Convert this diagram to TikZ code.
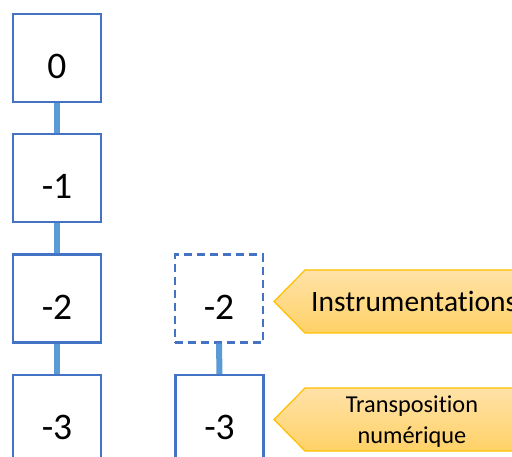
\documentclass[tikz,border=0pt]{standalone}
\usepackage{fontspec}
\setmainfont{Carlito}[Ligatures={NoCommon,NoRare,NoContextual}]
\definecolor{boxblue}{HTML}{4472C4}
\definecolor{linkblue}{HTML}{5B9BD5}
\definecolor{tagtop}{HTML}{FFE2A8}
\definecolor{tagbot}{HTML}{FFD166}
\definecolor{tagedge}{HTML}{FFC000}
\begin{document}
\begin{tikzpicture}[x=1pt,y=-1pt,
  level/.style={draw=boxblue,line width=2.2pt,fill=white,inner sep=0pt,
    text width=88pt,align=center,text height=64.5pt,text depth=23.5pt,
    font=\fontsize{37.5}{42}\selectfont},
  ghost/.style={level,dash pattern=on 8pt off 5pt},
  link/.style={draw=linkblue,line width=6pt},
  tag/.style={draw=tagedge,line width=1.2pt,top color=tagtop,bottom color=tagbot},
  tagtext/.style={inner sep=0pt,text=black}]
\useasboundingbox (0,0) rectangle (512,457);
\clip (0,0) rectangle (512,457);
\fill[white] (0,0) rectangle (512,457);
% left column
\node[level,anchor=north] (a0) at (57,13) {0};
\node[level,anchor=north] (a1) at (57,133) {-1};
\node[level,anchor=north] (a2) at (57,253.5) {-2};
\node[level,anchor=north] (a3) at (57,374) {-3};
% right column
\node[ghost,anchor=north] (b2) at (219,253.5) {-2};
\node[level,anchor=north] (b3) at (219.5,374) {-3};
% connectors
\draw[link] (a0.south) -- (a1.north);
\draw[link] (a1.south) -- (a2.north);
\draw[link] (a2.south) -- (a3.north);
\draw[link] (b2.south) -- (b3.north);
% tags
\path[tag] (274,301.5) -- (305,270) -- (530,270) -- (530,333) -- (305,333) -- cycle;
\node[tagtext,anchor=base west,font=\fontsize{29.5}{35}\selectfont] (instr) at (311,312) {Instrumentations};
\path[tag] (274,419.5) -- (305,388) -- (530,388) -- (530,451) -- (305,451) -- cycle;
\node[tagtext,anchor=base,font=\fontsize{24.3}{30}\selectfont] (trans) at (412,413) {Transposition};
\node[tagtext,anchor=base,font=\fontsize{24.3}{30}\selectfont] (num) at (412,443) {numérique};
\end{tikzpicture}
\end{document}
